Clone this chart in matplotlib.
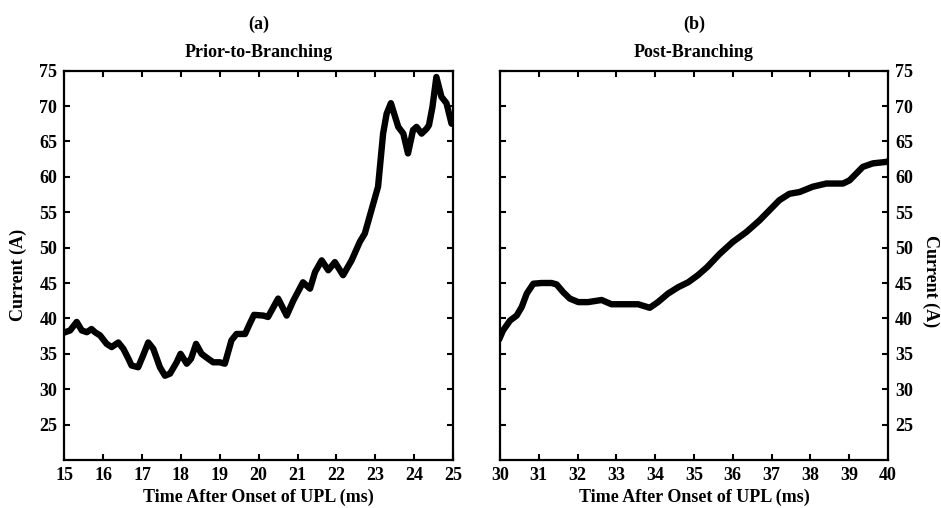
import matplotlib.pyplot as plt

plt.rcParams['font.family'] = ['Liberation Serif', 'DejaVu Serif']
plt.rcParams['font.weight'] = 'bold'
plt.rcParams['font.size'] = 13

# current trace before branching, 15-25 ms
t_pre = [15.0, 15.15, 15.32, 15.45, 15.58, 15.7, 15.79, 15.92, 16.09, 16.22,
         16.39, 16.52, 16.65, 16.73, 16.9, 17.03, 17.16, 17.29, 17.46, 17.59,
         17.72, 17.89, 17.99, 18.15, 18.26, 18.39, 18.53, 18.7, 18.83, 19.0,
         19.13, 19.3, 19.43, 19.65, 19.77, 19.88, 20.12, 20.24, 20.5, 20.72,
         20.89, 21.14, 21.32, 21.45, 21.62, 21.79, 21.96, 22.17, 22.39, 22.6,
         22.73, 22.9, 23.07, 23.2, 23.29, 23.4, 23.59, 23.72, 23.84, 23.97,
         24.06, 24.19, 24.32, 24.38, 24.47, 24.57, 24.7, 24.83, 24.96, 25.0]
i_pre = [38.0, 38.3, 39.5, 38.3, 38.05, 38.5, 38.05, 37.6, 36.4, 35.95,
         36.6, 35.7, 34.3, 33.35, 33.1, 34.8, 36.6, 35.7, 33.1, 31.9,
         32.2, 33.8, 35.0, 33.6, 34.3, 36.4, 35.0, 34.3, 33.8, 33.8,
         33.6, 36.9, 37.8, 37.8, 39.25, 40.5, 40.4, 40.2, 42.8, 40.4,
         42.5, 45.1, 44.2, 46.55, 48.2, 46.8, 47.95, 46.1, 48.2, 50.8,
         52.0, 55.3, 58.6, 66.1, 68.9, 70.4, 67.05, 66.1, 63.3, 66.6,
         67.05, 66.1, 66.8, 67.3, 69.9, 74.1, 71.3, 70.4, 67.5, 68.0]

# current trace after branching, 30-40 ms
t_post = [30.0, 30.08, 30.26, 30.43, 30.56, 30.69, 30.86, 31.07, 31.33, 31.46,
          31.63, 31.8, 32.02, 32.27, 32.62, 32.87, 33.22, 33.56, 33.86, 34.07,
          34.33, 34.59, 34.85, 35.1, 35.34, 35.66, 36.0, 36.35, 36.69, 36.95,
          37.2, 37.46, 37.72, 38.06, 38.41, 38.84, 39.01, 39.18, 39.35, 39.61,
          39.95, 40.0]
i_post = [37.3, 38.3, 39.7, 40.4, 41.6, 43.5, 44.9, 45.0, 45.0, 44.8,
          43.7, 42.8, 42.3, 42.3, 42.6, 42.0, 42.0, 42.0, 41.5, 42.3,
          43.5, 44.4, 45.1, 46.1, 47.25, 49.1, 50.8, 52.2, 53.85, 55.3,
          56.7, 57.6, 57.85, 58.6, 59.05, 59.05, 59.5, 60.45, 61.4, 61.9,
          62.1, 62.2]

y_ticks = [25, 30, 35, 40, 45, 50, 55, 60, 65, 70, 75]

fig = plt.figure(figsize=(9.41, 5.08), dpi=100)
ax1 = fig.add_axes([0.0683, 0.0945, 0.4132, 0.7665])
ax2 = fig.add_axes([0.5313, 0.0945, 0.4124, 0.7665])


def style(ax, t, cur, xlim, letter, title):
    ax.plot(t, cur, color='black', lw=4.6, solid_joinstyle='round')
    ax.set_xlim(*xlim)
    ax.set_ylim(20, 75)
    ax.set_xticks(range(xlim[0], xlim[1] + 1))
    ax.set_yticks(y_ticks)
    ax.tick_params(direction='in', length=4, width=1.5, top=True, right=True,
                   labelsize=13, pad=5)
    for s in ax.spines.values():
        s.set_linewidth(1.6)
    ax.set_xlabel('Time After Onset of UPL (ms)', fontsize=13,
                  fontweight='bold', labelpad=3.5)
    ax.set_title(title, fontsize=13, fontweight='bold', pad=10)
    ax.text(0.5, 1.12, letter, transform=ax.transAxes, ha='center',
            va='center', fontsize=13, fontweight='bold')


style(ax1, t_pre, i_pre, (15, 25), '(a)', 'Prior-to-Branching')
ax1.set_ylabel('Current (A)', fontsize=13, fontweight='bold')
ax1.yaxis.set_label_coords(-0.095, 0.474)

style(ax2, t_post, i_post, (30, 40), '(b)', 'Post-Branching')
ax2.tick_params(labelleft=False, labelright=True)
ax2.yaxis.set_label_position('right')
ax2.set_ylabel('Current (A)', fontsize=13, fontweight='bold',
               rotation=270, va='center')
ax2.yaxis.set_label_coords(1.11, 0.46)

fig.savefig('out.png', dpi=100)
